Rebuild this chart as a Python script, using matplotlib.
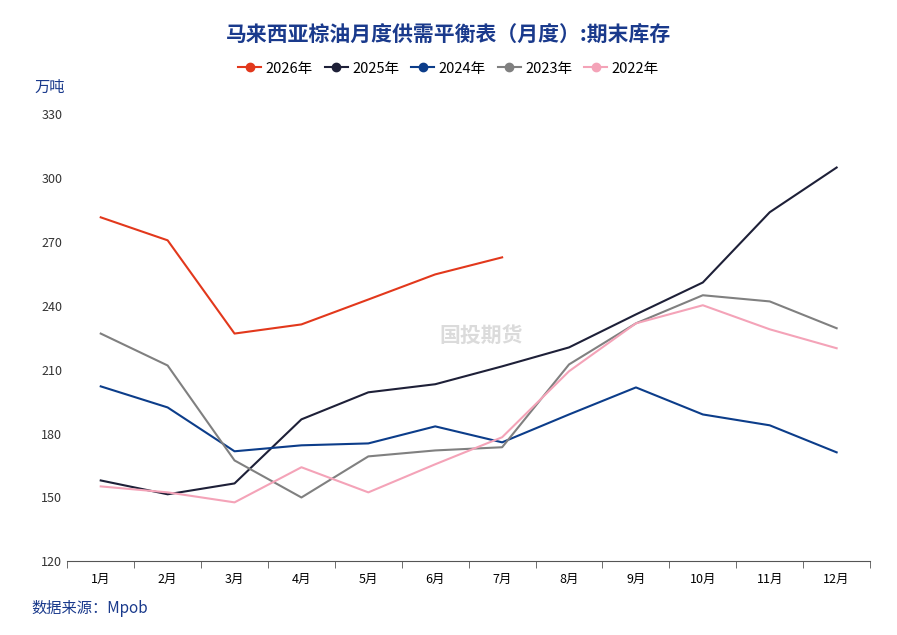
import matplotlib.pyplot as plt

plt.rcParams["font.family"] = ["Noto Sans CJK SC", "DejaVu Sans"]

months = [f"{i}月" for i in range(1, 13)]
y2026 = [281.6, 270.8, 227.0, 231.3, 243.0, 254.8, 262.8]
y2025 = [158.0, 151.5, 156.6, 186.7, 199.4, 203.2, 211.6, 220.5, 236.0, 251.0, 284.0, 305.0]
y2024 = [202.2, 192.3, 171.7, 174.5, 175.4, 183.4, 175.9, 189.0, 201.7, 189.0, 183.9, 171.2]
y2023 = [227.0, 212.0, 167.4, 150.0, 169.3, 172.1, 173.6, 212.5, 231.8, 245.0, 242.1, 229.5]
y2022 = [155.2, 152.4, 147.7, 164.2, 152.4, 165.6, 178.3, 209.3, 231.8, 240.3, 229.0, 220.1]

series = [
    ("2026年", y2026, "#E2381C"),
    ("2025年", y2025, "#1E2038"),
    ("2024年", y2024, "#0C3D8A"),
    ("2023年", y2023, "#808080"),
    ("2022年", y2022, "#F4A3B8"),
]

fig = plt.figure(figsize=(8.97, 6.35), dpi=100)
ax = fig.add_axes([0.075, 0.116, 0.895, 0.704])

for label, vals, color in series:
    ax.plot(range(len(vals)), vals, color=color, linewidth=1.5, label=label)

ax.set_xlim(-0.5, 11.5)
ax.set_ylim(120, 330)
ax.set_yticks(range(120, 331, 30))
ax.set_xticks(range(12))
ax.set_xticklabels(months)
ax.set_xticks([i + 0.5 for i in range(-1, 12)], minor=True)
ax.tick_params(axis="x", which="major", length=0, labelsize=9, pad=8)
ax.tick_params(axis="x", which="minor", length=5, color="#555555")
ax.tick_params(axis="y", length=0, labelsize=9, colors="#333333")
for s in ["top", "right", "left"]:
    ax.spines[s].set_visible(False)
ax.spines["bottom"].set_color("#555555")

fig.text(0.5, 0.935, "马来西亚棕油月度供需平衡表（月度）:期末库存", ha="center",
         fontsize=15, fontweight="bold", color="#1A3A8C")
fig.legend(loc="center", bbox_to_anchor=(0.5, 0.892), ncol=5, frameon=False,
           fontsize=10.5, handlelength=1.6, columnspacing=0.8, handletextpad=0.3)
for h in fig.legends[0].legend_handles:
    h.set_marker("o")
    h.set_markersize(6)
fig.text(0.038, 0.855, "万吨", fontsize=11, color="#1A3A8C")
fig.text(0.035, 0.035, "数据来源：Mpob", fontsize=11, color="#1A3A8C")
fig.text(0.49, 0.46, "国投期货", fontsize=15, color="#cccccc", fontweight="bold", alpha=0.7)

fig.savefig("out.png", dpi=100)
